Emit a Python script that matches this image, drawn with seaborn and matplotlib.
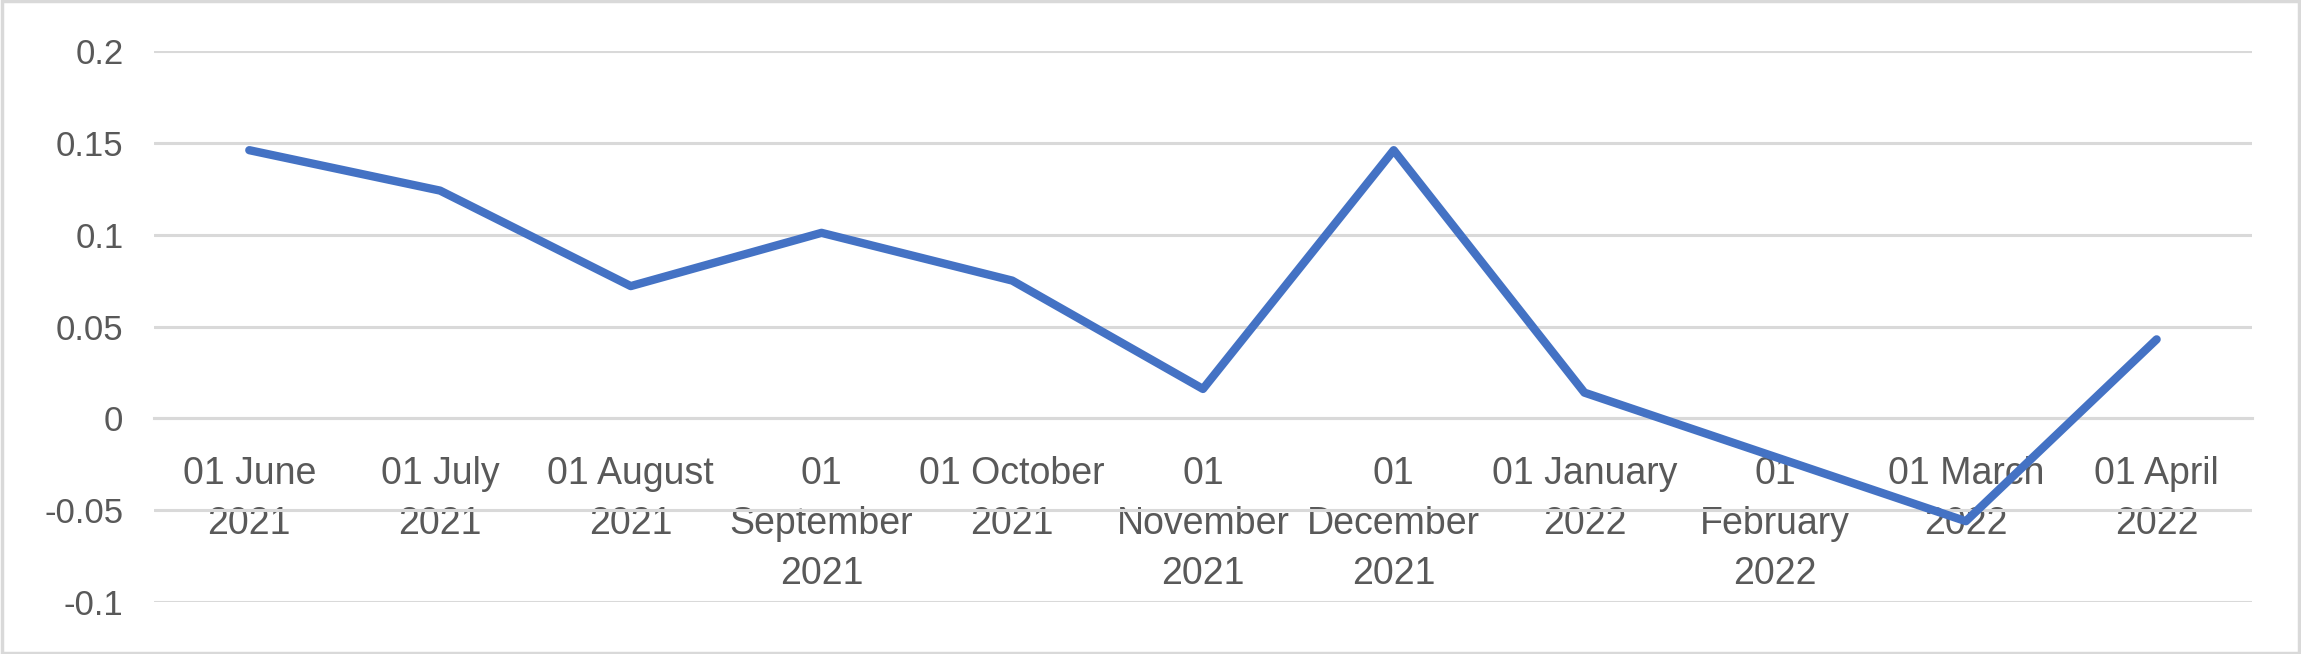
import numpy as np
import pandas as pd
import seaborn as sns
import matplotlib.pyplot as plt
from matplotlib.patches import Rectangle

months = ['01 June\n2021', '01 July\n2021', '01 August\n2021', '01\nSeptember\n2021',
          '01 October\n2021', '01\nNovember\n2021', '01\nDecember\n2021', '01 January\n2022',
          '01\nFebruary\n2022', '01 March\n2022', '01 April\n2022']
values = [0.146, 0.124, 0.072, 0.101, 0.075, 0.016, 0.146, 0.014, -0.021, -0.056, 0.043]
y_ticks = [-0.1, -0.05, 0, 0.05, 0.1, 0.15, 0.2]
y_labels = ['-0.1', '-0.05', '0', '0.05', '0.1', '0.15', '0.2']

sns.set_style('white')
plt.rcParams['font.family'] = ['Liberation Sans Narrow', 'Liberation Sans', 'DejaVu Sans']

df = pd.DataFrame({'month': months, 'value': values})

fig = plt.figure(figsize=(23.01, 6.54), dpi=100)
ax = fig.add_axes([0.0669, 0.0795, 0.9118, 0.8425])

pos = np.arange(len(months))
sns.lineplot(x=pos, y=df['value'], ax=ax, color='#4472C4', linewidth=6,
             solid_capstyle='round', solid_joinstyle='round', zorder=3)

ax.set_xlim(-0.5, len(months) - 0.5)
ax.set_ylim(-0.1, 0.2)
ax.set_yticks(y_ticks)
ax.set_yticklabels(y_labels)
ax.yaxis.grid(True, color='#D9D9D9', linewidth=2.2)
ax.tick_params(axis='y', length=0, pad=22, labelsize=25, labelcolor='#595959')

# category boundaries as tick marks, labels in the middle
ax.set_xticks(np.arange(len(months) + 1) - 0.5)
ax.set_xticklabels([])
ax.tick_params(axis='x', which='major', length=15, width=2.2, color='#D9D9D9', direction='out')
ax.set_xticks(pos, minor=True)
ax.tick_params(axis='x', which='minor', length=0, pad=27, labelsize=27, labelcolor='#595959')
ax.set_xticklabels(months, minor=True)

for s in ['top', 'right', 'left']:
    ax.spines[s].set_visible(False)
ax.spines['bottom'].set_position(('data', 0))
ax.spines['bottom'].set_color('#D9D9D9')
ax.spines['bottom'].set_linewidth(2.2)
ax.set_xlabel('')
ax.set_ylabel('')

fig.patches.append(Rectangle((0.001, 0.002), 0.998, 0.996, transform=fig.transFigure,
                             fill=False, edgecolor='#D9D9D9', linewidth=2.5))

fig.canvas.draw()
for tick in ax.xaxis.get_minor_ticks():
    tick.label1.set_linespacing(1.5)

fig.savefig('out.png', dpi=100)
